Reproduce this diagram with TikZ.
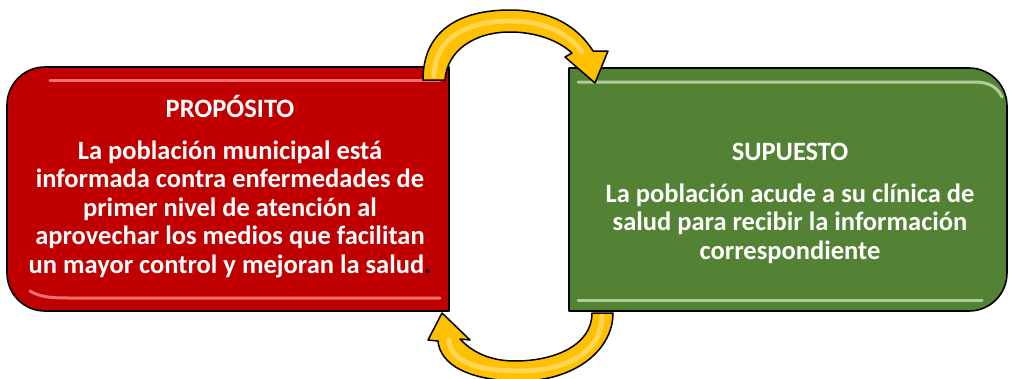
\documentclass[tikz,border=0pt]{standalone}
\usepackage{fontspec}
\setmainfont{Carlito}
\definecolor{boxred}{HTML}{C00000}
\definecolor{boxgreen}{HTML}{548235}
\definecolor{arrowyel}{HTML}{FFC000}
\definecolor{arrowhl}{HTML}{FFE48A}
\definecolor{hlred}{HTML}{FF8C8C}
\definecolor{hlgreen}{HTML}{C5E0B4}
\tikzset{
  boxframe/.style={draw=black, line width=1.6pt, line join=round},
  arrowbody/.style={fill=arrowyel, draw=black, line width=1.5pt, line join=round},
  gloss/.style={line width=3pt, line cap=round, opacity=0.8},
  txt/.style={text=white, font=\fontsize{26.5}{28.5}\selectfont\bfseries, align=center, inner sep=0pt}
}
\begin{document}
\begin{tikzpicture}[x=1pt,y=-1pt]
\useasboundingbox (0,0) rectangle (1010,378);
% red box
\path[boxframe, fill=boxred] (449,67) -- (45,67) .. controls (24,67) and (7,84) .. (7,105) -- (7,273) .. controls (7,294) and (24,311) .. (45,311) -- (449,311) -- cycle;
\draw[gloss, hlred] (50,80) -- (440,80);
\draw[gloss, hlred] (30,291) .. controls (40,297) and (50,298) .. (70,298) -- (440,298);
% green box
\path[boxframe, fill=boxgreen] (569,68) -- (969,68) .. controls (990,68) and (1007,85) .. (1007,106) -- (1007,273) .. controls (1007,294) and (990,311) .. (969,311) -- (569,311) -- cycle;
\draw[gloss, hlgreen] (578,82) -- (975,82) .. controls (990,82) and (998,88) .. (1002,97);
\draw[gloss, hlgreen] (578,300) -- (982,300);
% texts
\node[txt, anchor=base] (proph) at (230,117) {PROPÓSITO};
\node[txt, anchor=base] (propb) at (230,273) {La población municipal está\\ informada contra enfermedades de\\ primer nivel de atención al\\ aprovechar los medios que facilitan\\ un mayor control y mejoran la salud{\color{black}.}};
\node[txt, anchor=base] (suph) at (790,160) {SUPUESTO};
\node[txt, anchor=base] (supb) at (790,259) {La población acude a su clínica de\\ salud para recibir la información\\ correspondiente};
% top arrow
\path[arrowbody] (423,80) .. controls (423,30) and (460,10) .. (510,10) .. controls (555,10) and (580,30) .. (593,51) -- (608,51) -- (595,83) -- (565,57) -- (572,53) .. controls (558,40) and (535,32) .. (510,32) .. controls (475,32) and (447,50) .. (445,80) -- cycle;
\draw[arrowhl, line width=5pt, line cap=round, opacity=0.6] (434,76) .. controls (434,40) and (465,21) .. (510,21) .. controls (550,21) and (572,38) .. (582,52);
% bottom arrow
\path[arrowbody] (613,313) .. controls (613,350) and (575,381) .. (520,381) .. controls (470,381) and (440,365) .. (438,341) -- (428,340) -- (442,313) -- (470,340) -- (460,339) .. controls (472,352) and (490,361) .. (515,361) .. controls (555,361) and (592,345) .. (592,313) -- cycle;
\draw[arrowhl, line width=5pt, line cap=round, opacity=0.6] (602,316) .. controls (602,350) and (570,371) .. (518,371) .. controls (475,371) and (450,360) .. (449,340);
\end{tikzpicture}
\end{document}
